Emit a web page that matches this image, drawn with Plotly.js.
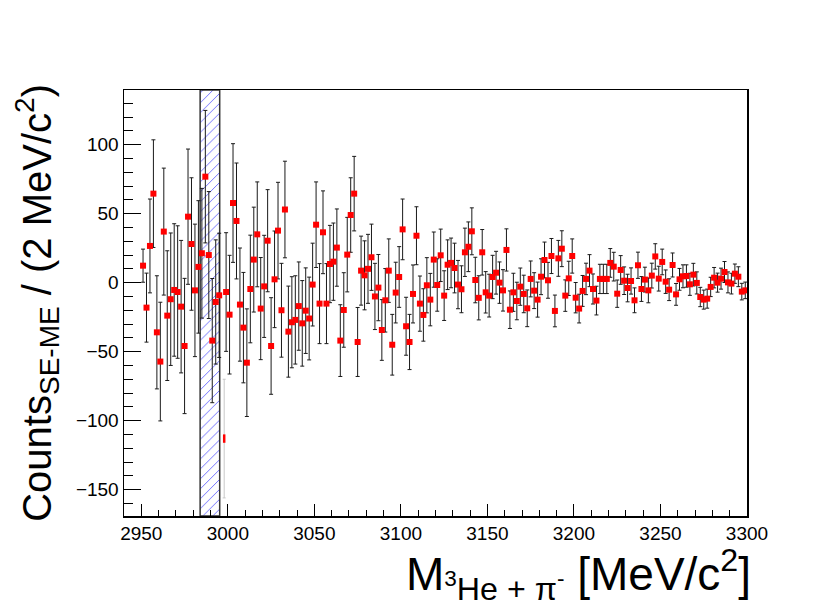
<!DOCTYPE html>
<html>
<head>
<meta charset="utf-8">
<script src="https://cdn.plot.ly/plotly-3.0.1.min.js"></script>
<style>
  body { margin: 0; background: white; }
  #plotArea { width: 830px; height: 608px; }
</style>
</head>
<body>
<div id="plotArea"></div>
<script>
// invariant mass bin centres (2 MeV bins), SE-ME counts and errors
var mass = [
  2951, 2953, 2955, 2957, 2959, 2961, 2963, 2965, 2967, 2969,
  2971, 2973, 2975, 2977, 2979, 2981, 2983, 2985, 2987, 2989,
  2991, 2993, 2995, 2999, 3001, 3003, 3005, 3007, 3009, 3011,
  3013, 3015, 3017, 3019, 3021, 3023, 3025, 3027, 3029, 3031,
  3033, 3035, 3037, 3039, 3041, 3043, 3045, 3047, 3049, 3051,
  3053, 3055, 3057, 3059, 3061, 3063, 3065, 3067, 3069, 3071,
  3073, 3075, 3077, 3079, 3081, 3083, 3085, 3087, 3089, 3091,
  3093, 3095, 3097, 3099, 3101, 3103, 3105, 3107, 3109, 3111,
  3113, 3115, 3117, 3119, 3121, 3123, 3125, 3127, 3129, 3131,
  3133, 3135, 3137, 3139, 3141, 3143, 3145, 3147, 3149, 3151,
  3153, 3155, 3157, 3159, 3161, 3163, 3165, 3167, 3169, 3171,
  3173, 3175, 3177, 3179, 3181, 3183, 3185, 3187, 3189, 3191,
  3193, 3195, 3197, 3199, 3201, 3203, 3205, 3207, 3209, 3211,
  3213, 3215, 3217, 3219, 3221, 3223, 3225, 3227, 3229, 3231,
  3233, 3235, 3237, 3239, 3241, 3243, 3245, 3247, 3249, 3251,
  3253, 3255, 3257, 3259, 3261, 3263, 3265, 3267, 3269, 3271,
  3273, 3275, 3277, 3279, 3281, 3283, 3285, 3287, 3289, 3291,
  3293, 3295, 3297, 3299
];

var counts = [
  12.3, -18.1, 26.6, 64.5, -36, -57.2, 37, -23.9, -12, -5.3,
  -6.8, -17.4, -45.9, 47.8, 28, -5.6, 11.4, 21.3, 76.8, 20,
  -42, -14, -9.2, -6.8, -23.2, 57.7, 44.7, -15.9, -32.6, -58,
  -4.6, 16.7, 35, -18.8, -2.7, 30.4, -45.9, 2.4, 37.7, -20,
  53, -35.5, -28.7, -27, -17, -29.5, -20.3, -26, -1.4, 42,
  -15.2, 36.5, -15.2, 13.5, 15.2, 25.4, -42, -19.8, 20.3, 49,
  64.5, -43, 8.7, 5.3, 10, 18.4, -10, -3.6, -34.3, -12.8,
  8.7, -45, -7.2, 4.1, 38.6, -31.6, -43, -8.2, 34, -15.2,
  -23.4, -1.9, -12.3, 16.7, -1.7, 19.8, -9.4, 13, 14.3, 10.6,
  -1.4, -4.8, 22, 26, 37.2, 1.9, -11, 22, -7, -9.4,
  4.1, 7.2, 0, -5.6, 23.7, -19.6, -7, -13.3, -2.9, -8.2,
  -18.6, 2.7, -5.8, -12.3, 4.3, 16.4, 1.7, 19.3, -20.5, 17.6,
  24.6, -9.4, 3.1, 19.3, -10.9, -18.8, -6, 2.7, 8.7, -4.6,
  -13, 2.7, 2.7, 2.7, 14.3, 11.6, -8, 9.2, 1.4, -3.9,
  1.2, -12.8, 12.6, -4.6, 2.2, -5.6, 5.1, 19, 2.9, 15,
  0.7, -5.1, 12.8, -8.5, 2.4, 4.6, 4.8, -1.2, 5.8, -0.2,
  -10.4, -12.3, -11.6, -3.1, 3.6, 0, 2.9, 7.7, 0.2, -0.7,
  6.5, 4.3, -6.5, -5.6
];

var errors = [
  12, 25, 34, 39, 41, 43, 46, 47, 48, 48,
  48, 48, 49, 49, 48, 48, 48, 47, 48, 46,
  45, 45, 45, 43, 43, 43, 42, 41, 40, 39,
  39, 38, 38, 37, 37, 37, 35, 35, 35, 34,
  35, 33, 33, 32, 32, 31, 31, 30, 30, 31,
  29, 30, 29, 28, 28, 28, 26, 27, 27, 27,
  27, 25, 25, 25, 25, 24, 24, 24, 22, 23,
  23, 22, 22, 22, 22, 21, 20, 21, 21, 20,
  19, 20, 19, 20, 19, 19, 18, 18, 18, 18,
  17.5, 17, 17.5, 18, 17, 16.5, 16, 16.5, 15, 15.5,
  15.7, 15.5, 15, 15, 15.3, 13.6, 13.8, 13.6, 13.5, 13.6,
  13.3, 13, 13, 12.7, 13, 13, 13, 12.7, 11.5, 13,
  13, 11.4, 12.4, 12.4, 11, 10.4, 11.2, 11.4, 11.6, 10.9,
  10.4, 10.6, 10.6, 10.6, 10.4, 10.4, 9.9, 10.4, 10, 10,
  9.5, 9, 9.5, 9, 9, 9, 9, 9.2, 9, 9.3,
  8.5, 7.9, 8.7, 7.9, 7.9, 8.3, 8.1, 8, 8.2, 8,
  7, 6.9, 6.9, 7, 7.4, 6.9, 7.6, 7.6, 7.6, 7.5,
  7, 7.2, 6, 6
];

// the lone low point next to the band
var lowMass = [2997.9];
var lowCounts = [-113];
var lowErrors = [43];

// hatched band edges and axis ranges
var bandEdges = [2984, 2995.3];
var xRange = [2940, 3300];
var yRange = [-169.1, 139.6];

var band = {
    x: [bandEdges[0], bandEdges[1], bandEdges[1], bandEdges[0], bandEdges[0]],
    y: [yRange[0], yRange[0], yRange[1], yRange[1], yRange[0]],
    mode: "lines",
    fill: "toself",
    fillcolor: "white",
    fillpattern: {shape: "/", fgcolor: "#5a5aff", bgcolor: "white", size: 7, solidity: 0.12},
    line: {color: "#333333", width: 1.5},
    hoverinfo: "skip",
    showlegend: false
};

var points = {
    x: mass,
    y: counts,
    mode: "markers",
    type: "scatter",
    marker: {symbol: "square", size: 6, color: "#ff0000"},
    error_y: {type: "data", array: errors, visible: true, color: "#1a1a1a", thickness: 1, width: 2},
    showlegend: false
};

var lowPoint = {
    x: lowMass,
    y: lowCounts,
    mode: "markers",
    type: "scatter",
    marker: {symbol: "line-ns-open", size: 6, color: "#ff0000", line: {color: "#ff0000", width: 2.5}},
    error_y: {type: "data", array: lowErrors, visible: true, color: "#c8c8c8", thickness: 1, width: 1.5},
    showlegend: false
};

var font = "Liberation Sans, Arial, Helvetica, sans-serif";

var layout = {
    width: 830,
    height: 608,
    margin: {l: 124, r: 83, t: 90, b: 92},
    paper_bgcolor: "white",
    plot_bgcolor: "white",
    font: {family: font, color: "black"},
    xaxis: {
        range: xRange,
        dtick: 50,
        tick0: 2950,
        ticks: "inside",
        ticklen: 12,
        tickwidth: 1,
        tickcolor: "black",
        minor: {dtick: 10, ticks: "inside", ticklen: 6, tickcolor: "black"},
        showgrid: false,
        zeroline: false,
        showline: true,
        mirror: true,
        linecolor: "black",
        linewidth: 1.5,
        tickfont: {size: 19, family: font}
    },
    yaxis: {
        range: yRange,
        dtick: 50,
        ticks: "inside",
        ticklen: 17,
        tickwidth: 1,
        tickcolor: "black",
        minor: {dtick: 10, ticks: "inside", ticklen: 9, tickcolor: "black"},
        showgrid: false,
        zeroline: false,
        showline: true,
        mirror: true,
        linecolor: "black",
        linewidth: 1.5,
        tickfont: {size: 19, family: font}
    },
    annotations: [
        {
            text: "Counts<sub>SE-ME</sub> / (2 MeV/c<sup>2</sup>)",
            xref: "paper", yref: "paper",
            x: -0.14, y: 0.5,
            xanchor: "center", yanchor: "middle",
            textangle: -90,
            showarrow: false,
            font: {size: 40, family: font}
        },
        {
            text: "M<sub><sup>3</sup>He + \u03c0<sup>-</sup></sub> [MeV/c<sup>2</sup>]",
            xref: "paper", yref: "paper",
            x: 1.01, y: -0.138,
            xanchor: "right", yanchor: "middle",
            showarrow: false,
            font: {size: 46, family: font}
        }
    ]
};

Plotly.newPlot("plotArea", [band, points, lowPoint], layout, {displayModeBar: false, staticPlot: true});
</script>
</body>
</html>
